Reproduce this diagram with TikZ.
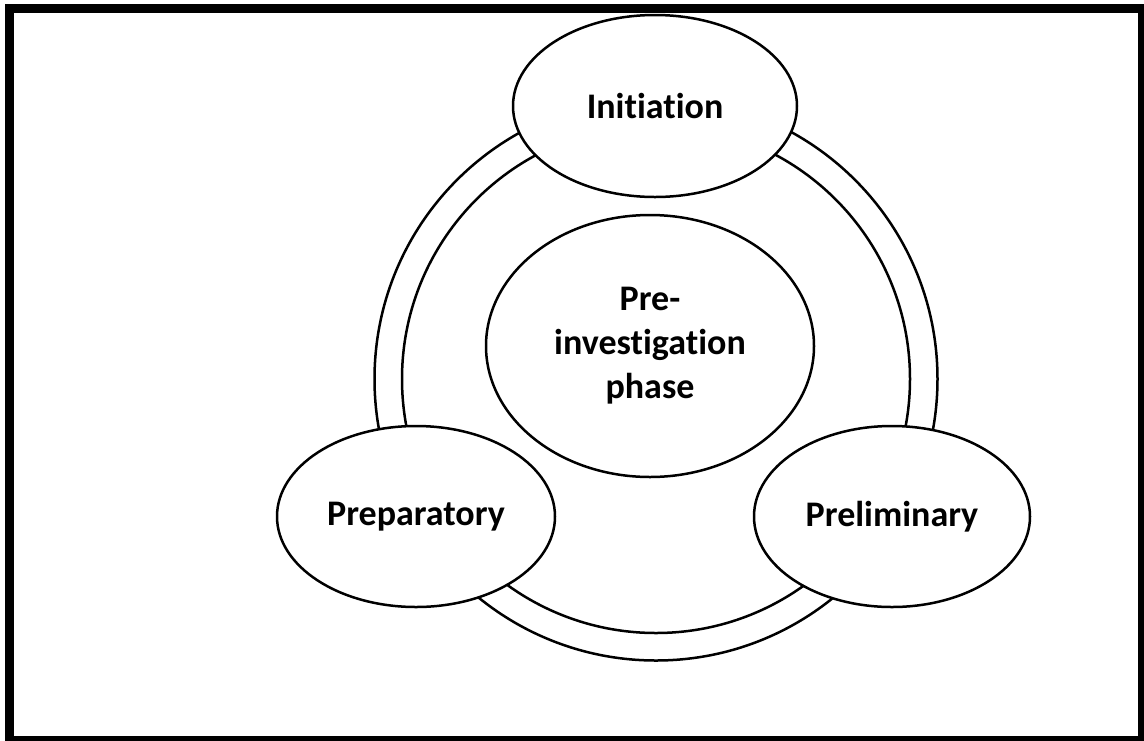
\documentclass[tikz,border=0pt]{standalone}
\usepackage{fontspec}
\setmainfont[Ligatures=NoCommon]{Carlito}
\usetikzlibrary{shapes.geometric}
\begin{document}
\begin{tikzpicture}[x=1pt,y=-1pt,
  ringline/.style={draw=black,line width=2.5pt},
  phase/.style={ellipse,draw=black,fill=white,line width=2.5pt,inner sep=0pt,
    font=\fontsize{36}{44}\selectfont\bfseries,align=center},
]
\useasboundingbox (0,0) rectangle (1144,740);
\clip (0,0) rectangle (1144,740);
\fill[white] (0,0) rectangle (1144,740);
\draw[line width=9pt] (9.5,8.5) rectangle (1142.5,740.5);
\coordinate (ctr) at (656,379);
\draw[ringline] (ctr) circle[radius=281.5];
\draw[ringline] (ctr) circle[radius=254];
\node[phase,minimum width=328pt,minimum height=262pt] (pre) at (650,346) {Pre-\\investigation\\phase};
\node[phase,minimum width=284pt,minimum height=182pt] (init) at (655,106) {Initiation};
\node[phase,minimum width=278pt,minimum height=181pt] (prep) at (416,516.5) {Preparatory};
\node[phase,minimum width=276pt,minimum height=181pt] (prel) at (892,516.5) {Preliminary};
\end{tikzpicture}
\end{document}
